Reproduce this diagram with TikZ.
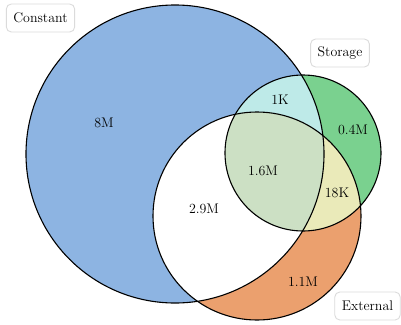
\documentclass[tikz,border=0pt]{standalone}
\begin{document}
\begin{tikzpicture}[x=1bp,y=-1bp,
  lbl/.style={font=\fontsize{14}{16}\selectfont},
  tag/.style={draw=black!14,fill=white,rounded corners=5bp,line width=0.9bp,
    minimum height=28bp,inner xsep=7bp,font=\fontsize{14}{16}\selectfont},
  outline/.style={draw=black,line width=1.1bp}]
\definecolor{cblue}{RGB}{141,180,226}
\definecolor{cgreen}{RGB}{122,209,143}
\definecolor{corange}{RGB}{235,160,110}
\definecolor{ccyan}{RGB}{190,234,232}
\definecolor{cyell}{RGB}{234,234,185}
\definecolor{call}{RGB}{204,224,196}
\useasboundingbox (0,0) rectangle (401,325);
\coordinate (C) at (175,154);
\coordinate (S) at (303,153);
\coordinate (E) at (257,216);
\def\rC{149bp}\def\rS{78bp}\def\rE{104bp}
\fill[cblue] (C) circle[radius=\rC];
\fill[cgreen] (S) circle[radius=\rS];
\fill[corange] (E) circle[radius=\rE];
\begin{scope}
  \clip (C) circle[radius=\rC];
  \fill[white] (E) circle[radius=\rE];
  \fill[ccyan] (S) circle[radius=\rS];
\end{scope}
\begin{scope}
  \clip (S) circle[radius=\rS];
  \fill[cyell] (E) circle[radius=\rE];
\end{scope}
\begin{scope}
  \clip (S) circle[radius=\rS];
  \clip (E) circle[radius=\rE];
  \fill[call] (C) circle[radius=\rC];
\end{scope}
\draw[outline] (C) circle[radius=\rC];
\draw[outline] (S) circle[radius=\rS];
\draw[outline] (E) circle[radius=\rE];
\node[lbl] (n8m) at (104,123) {8M};
\node[lbl] (n1k) at (280,100) {1K};
\node[lbl] (n04) at (353,130) {0.4M};
\node[lbl] (n16) at (263,171) {1.6M};
\node[lbl] (n18) at (337,193) {18K};
\node[lbl] (n29) at (204,209) {2.9M};
\node[lbl] (n11) at (303,282) {1.1M};
\node[tag] (tc) at (40.5,18) {Constant};
\node[tag] (ts) at (340,53) {Storage};
\node[tag] (te) at (367.5,306) {External};
\end{tikzpicture}
\end{document}
